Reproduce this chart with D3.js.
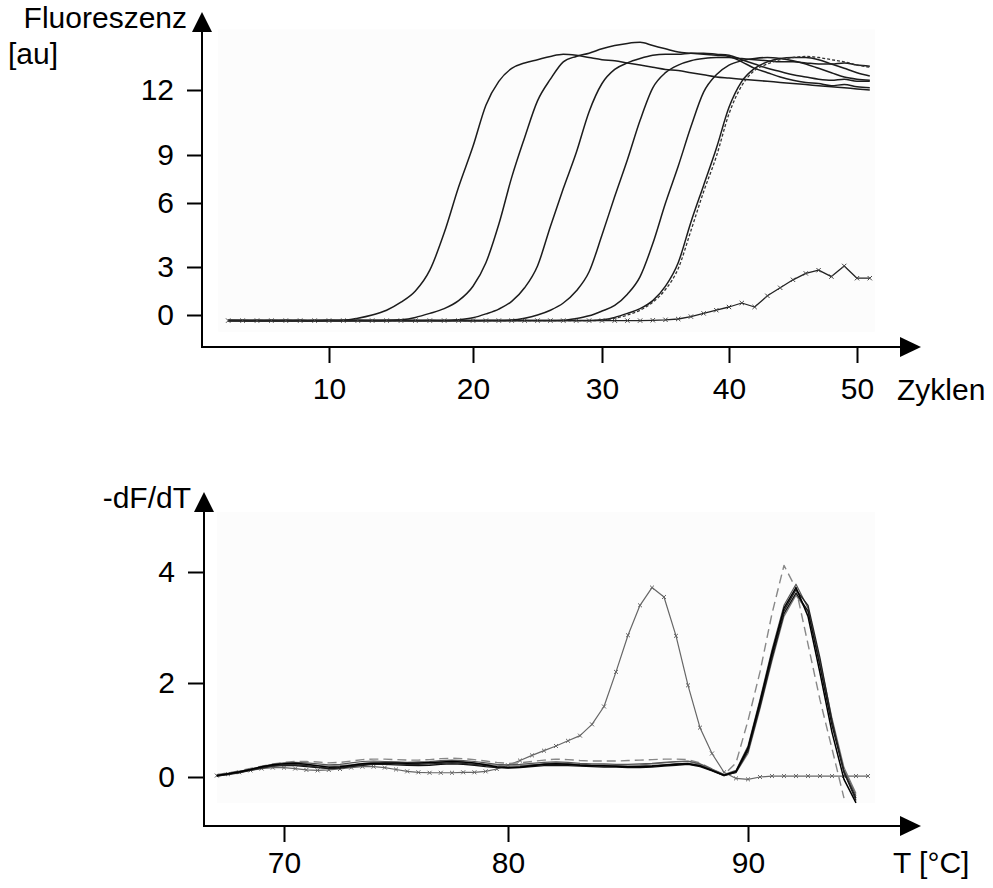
<!DOCTYPE html>
<html>
<head>
<meta charset="utf-8">
<script src="https://cdn.jsdelivr.net/npm/d3@7/dist/d3.min.js"></script>
<style>
  body { margin: 0; background: #fff; }
</style>
</head>
<body>
<svg id="chart" width="993" height="888"></svg>
<script>
// ---- amplification plot (top) ----
const ampXTicks = [10, 20, 30, 40, 50];
const ampYTicks = [0, 3, 6, 9, 12];
const cycles = [3, 4, 5, 6, 7, 8, 9, 10, 11, 12, 13, 14, 15, 16, 17, 18, 19, 20, 21, 22, 23, 24, 25, 26, 27,
    28, 29, 30, 31, 32, 33, 34, 35, 36, 37, 38, 39, 40, 41, 42, 43, 44, 45, 46, 47, 48, 49, 50, 51];

const amp1 = [-0.35, -0.36, -0.35, -0.34, -0.35, -0.35, -0.36, -0.35, -0.33, -0.2, 0.0, 0.3, 0.8, 1.5, 2.8, 4.6,
    7.0, 9.4, 11.3, 12.4, 13.0, 13.25, 13.4, 13.55, 13.65, 13.6, 13.5, 13.4, 13.35, 13.25, 13.15, 13.05, 12.95,
    12.9, 12.8, 12.7, 12.6, 12.55, 12.5, 12.45, 12.4, 12.35, 12.3, 12.25, 12.2, 12.15, 12.1, 12.05, 12.0];
const amp2 = [-0.35, -0.35, -0.36, -0.35, -0.35, -0.34, -0.35, -0.35, -0.36, -0.35, -0.35, -0.35, -0.3, -0.15,
    0.1, 0.4, 0.9, 1.8, 3.2, 5.0, 7.6, 9.8, 11.5, 12.5, 13.3, 13.55, 13.7, 13.9, 14.05, 14.15, 14.2, 14.05, 13.9,
    13.75, 13.7, 13.65, 13.6, 13.55, 13.3, 13.0, 12.8, 12.6, 12.45, 12.35, 12.3, 12.2, 12.25, 12.15, 12.1];
const amp3 = [-0.35, -0.35, -0.35, -0.36, -0.35, -0.35, -0.35, -0.34, -0.35, -0.35, -0.36, -0.35, -0.35, -0.35,
    -0.35, -0.35, -0.3, -0.17, 0.07, 0.37, 0.85, 1.7, 3.05, 4.9, 6.9, 9.1, 11.0, 12.3, 12.95, 13.25, 13.45, 13.6,
    13.65, 13.65, 13.7, 13.7, 13.65, 13.6, 13.4, 13.2, 13.0, 12.85, 12.7, 12.6, 12.5, 12.45, 12.5, 12.4, 12.4];
const amp4 = [-0.35, -0.35, -0.35, -0.35, -0.36, -0.35, -0.35, -0.35, -0.35, -0.34, -0.35, -0.35, -0.35, -0.36,
    -0.35, -0.35, -0.35, -0.35, -0.35, -0.35, -0.32, -0.2, 0.0, 0.3, 0.75, 1.5, 2.7, 4.5, 6.4, 8.7, 10.6, 12.1,
    12.8, 13.15, 13.35, 13.45, 13.5, 13.5, 13.45, 13.4, 13.35, 13.3, 13.3, 13.25, 13.2, 13.2, 13.25, 13.15, 13.1];
const amp5 = [-0.35, -0.35, -0.35, -0.35, -0.35, -0.36, -0.35, -0.35, -0.35, -0.35, -0.35, -0.34, -0.35, -0.35,
    -0.35, -0.36, -0.35, -0.35, -0.35, -0.35, -0.35, -0.35, -0.35, -0.35, -0.33, -0.22, -0.05, 0.25, 0.6, 1.3,
    2.4, 4.1, 6.0, 8.3, 10.3, 11.9, 12.7, 13.15, 13.35, 13.45, 13.5, 13.45, 13.35, 13.2, 13.0, 12.8, 12.6, 12.5, 12.45];
const amp6 = [-0.35, -0.35, -0.35, -0.35, -0.35, -0.35, -0.36, -0.35, -0.35, -0.35, -0.35, -0.35, -0.34, -0.35,
    -0.35, -0.35, -0.35, -0.36, -0.35, -0.35, -0.35, -0.35, -0.35, -0.35, -0.35, -0.35, -0.35, -0.3, -0.15, 0.1,
    0.4, 0.9, 1.8, 3.2, 5.1, 7.1, 9.3, 11.2, 12.4, 13.0, 13.3, 13.45, 13.5, 13.5, 13.4, 13.2, 13.0, 12.8, 12.65];
const ampDashed = [-0.35, -0.35, -0.35, -0.35, -0.35, -0.35, -0.35, -0.35, -0.35, -0.35, -0.35, -0.35, -0.35,
    -0.35, -0.35, -0.35, -0.35, -0.35, -0.35, -0.35, -0.35, -0.35, -0.35, -0.35, -0.35, -0.35, -0.35, -0.33, -0.2,
    0.0, 0.3, 0.8, 1.6, 2.9, 4.7, 6.7, 8.9, 10.9, 12.2, 12.9, 13.2, 13.4, 13.5, 13.55, 13.5, 13.4, 13.3, 13.15, 13.05];
const ampNtc = [-0.35, -0.35, -0.35, -0.35, -0.35, -0.35, -0.35, -0.35, -0.35, -0.35, -0.35, -0.35, -0.35,
    -0.35, -0.35, -0.35, -0.35, -0.35, -0.35, -0.35, -0.35, -0.35, -0.35, -0.35, -0.35, -0.35, -0.35, -0.35,
    -0.35, -0.35, -0.35, -0.33, -0.3, -0.25, -0.1, 0.1, 0.3, 0.5, 0.75, 0.5, 1.2, 1.7, 2.2, 2.6, 2.8, 2.4, 3.05, 2.3, 2.3];

// ---- melting curves (bottom) ----
const meltXTicks = [70, 80, 90];
const meltYTicks = [0, 2, 4];
const meltTemps = [67, 67.5, 68, 68.5, 69, 69.5, 70, 70.5, 71, 71.5, 72, 72.5, 73, 73.5, 74, 74.5, 75, 75.5, 76,
    76.5, 77, 77.5, 78, 78.5, 79, 79.5, 80, 80.5, 81, 81.5, 82, 82.5, 83, 83.5, 84, 84.5, 85, 85.5, 86, 86.5, 87,
    87.5, 88, 88.5, 89, 89.5, 90, 90.5, 91, 91.5, 92, 92.5, 93, 93.5, 94, 94.5, 95];

const melt1 = [0.03, 0.07, 0.11, 0.16, 0.22, 0.26, 0.28, 0.29, 0.27, 0.24, 0.21, 0.22, 0.25, 0.28, 0.29, 0.3, 0.3,
    0.29, 0.3, 0.31, 0.32, 0.33, 0.32, 0.3, 0.26, 0.22, 0.2, 0.21, 0.24, 0.27, 0.28, 0.27, 0.25, 0.24, 0.24, 0.23,
    0.22, 0.22, 0.23, 0.25, 0.27, 0.28, 0.24, 0.14, 0.04, 0.12, 0.62, 1.6, 2.55, 3.35, 3.72, 3.2, 2.18, 0.95, -0.05, -0.55, null];
const melt2 = [0.02, 0.06, 0.1, 0.15, 0.2, 0.24, 0.25, 0.24, 0.22, 0.2, 0.18, 0.19, 0.22, 0.25, 0.27, 0.27, 0.26,
    0.25, 0.24, 0.25, 0.27, 0.28, 0.27, 0.25, 0.22, 0.2, 0.19, 0.2, 0.22, 0.24, 0.25, 0.24, 0.23, 0.22, 0.21, 0.21,
    0.2, 0.2, 0.21, 0.23, 0.25, 0.27, 0.22, 0.13, 0.03, 0.1, 0.55, 1.5, 2.45, 3.25, 3.62, 3.3, 2.3, 1.1, 0.1, -0.45, null];
const melt3 = [0.04, 0.08, 0.12, 0.17, 0.22, 0.27, 0.3, 0.31, 0.3, 0.28, 0.26, 0.27, 0.3, 0.33, 0.34, 0.33, 0.32,
    0.31, 0.32, 0.33, 0.35, 0.36, 0.35, 0.33, 0.3, 0.27, 0.26, 0.27, 0.29, 0.31, 0.32, 0.31, 0.29, 0.28, 0.28, 0.27,
    0.27, 0.28, 0.29, 0.31, 0.33, 0.34, 0.28, 0.17, 0.05, 0.14, 0.66, 1.65, 2.6, 3.4, 3.78, 3.35, 2.35, 1.15, 0.15, -0.4, null];
const melt4 = [0.03, 0.07, 0.11, 0.15, 0.19, 0.23, 0.26, 0.27, 0.26, 0.24, 0.23, 0.24, 0.26, 0.29, 0.31, 0.32, 0.31,
    0.3, 0.29, 0.3, 0.31, 0.32, 0.31, 0.29, 0.27, 0.25, 0.23, 0.24, 0.26, 0.28, 0.3, 0.29, 0.27, 0.26, 0.26, 0.25,
    0.25, 0.26, 0.28, 0.3, 0.32, 0.33, 0.27, 0.16, 0.04, 0.09, 0.5, 1.45, 2.4, 3.2, 3.58, 3.28, 2.4, 1.25, 0.2, -0.35, null];
const melt5 = [0.02, 0.05, 0.09, 0.14, 0.19, 0.23, 0.25, 0.26, 0.24, 0.21, 0.19, 0.2, 0.23, 0.26, 0.28, 0.29, 0.28,
    0.27, 0.27, 0.28, 0.29, 0.3, 0.29, 0.27, 0.24, 0.21, 0.2, 0.22, 0.25, 0.27, 0.28, 0.27, 0.25, 0.24, 0.23, 0.23,
    0.22, 0.23, 0.24, 0.26, 0.28, 0.29, 0.24, 0.14, 0.03, 0.11, 0.58, 1.55, 2.5, 3.3, 3.68, 3.4, 2.45, 1.2, 0.1, -0.5, null];
const meltDashed = [0.05, 0.09, 0.13, 0.18, 0.23, 0.28, 0.31, 0.33, 0.33, 0.32, 0.3, 0.31, 0.34, 0.37, 0.38, 0.38,
    0.37, 0.36, 0.36, 0.37, 0.39, 0.4, 0.39, 0.37, 0.34, 0.31, 0.29, 0.3, 0.33, 0.36, 0.38, 0.37, 0.35, 0.34, 0.34,
    0.34, 0.35, 0.36, 0.37, 0.38, 0.38, 0.37, 0.3, 0.17, 0.05, 0.3, 1.2, 2.2, 3.25, 4.12, 3.7, 2.7, 1.64, 0.6, -0.45, null, null];
const meltNtc = [0.03, 0.06, 0.1, 0.14, 0.18, 0.2, 0.2, 0.18, 0.15, 0.14, 0.15, 0.17, 0.2, 0.22, 0.22, 0.2, 0.16,
    0.12, 0.1, 0.09, 0.09, 0.09, 0.1, 0.1, 0.12, 0.17, 0.25, 0.35, 0.46, 0.56, 0.66, 0.77, 0.88, 1.12, 1.5, 2.2,
    2.86, 3.4, 3.72, 3.55, 2.85, 1.95, 1.05, 0.5, 0.1, -0.03, -0.05, 0.0, 0.02, 0.02, 0.02, 0.02, 0.02, 0.02, 0.02, 0.02, 0.02];

const fontFamily = 'Arial, "Liberation Sans", sans-serif';
const tickFontSize = 30;
const titleFontSize = 30;
const svg = d3.select('#chart');

// the hand-drawn axes in the original are unevenly spaced, so the scales are piecewise
const xAmp = d3.scaleLinear().domain(ampXTicks).range([329, 473, 602, 729, 857]);
const yAmp = d3.scaleLinear().domain(ampYTicks).range([315, 267, 203, 155, 90]);
const xMelt = d3.scaleLinear().domain(meltXTicks).range([284, 508, 748]);
const yMelt = d3.scaleLinear().domain(meltYTicks).range([777, 683, 572]);

const drawArrowAxes = (x0, y0, xTip, yTip) => {
    let g = svg.append('g').attr('fill', '#000').attr('stroke', '#000');
    g.append('line')
        .attr('x1', x0).attr('y1', y0 + 1)
        .attr('x2', x0).attr('y2', yTip + 18)
        .attr('stroke-width', 2);
    g.append('line')
        .attr('x1', x0 - 1).attr('y1', y0)
        .attr('x2', xTip - 18).attr('y2', y0)
        .attr('stroke-width', 2);
    g.append('path')
        .attr('stroke', 'none')
        .attr('d', `M${x0},${yTip}L${x0 - 10},${yTip + 20}L${x0 + 10},${yTip + 20}Z`);
    g.append('path')
        .attr('stroke', 'none')
        .attr('d', `M${xTip},${y0}L${xTip - 21},${y0 - 10}L${xTip - 21},${y0 + 10}Z`);
};

const styleAxis = (g) => {
    g.attr('font-family', fontFamily).attr('font-size', tickFontSize);
    g.select('.domain').remove();
    g.selectAll('.tick line').attr('stroke', '#000').attr('stroke-width', 2);
    g.selectAll('.tick text').attr('fill', '#000');
};

const addText = (txt, x, y, anchor) => {
    svg.append('text')
        .attr('x', x).attr('y', y)
        .attr('text-anchor', anchor)
        .attr('font-family', fontFamily)
        .attr('font-size', titleFontSize)
        .text(txt);
};

const drawSeries = (xScale, yScale, xs, ys, stroke, width, dash, curve) => {
    let line = d3.line()
        .defined(d => d[1] !== null)
        .curve(curve || d3.curveLinear)
        .x(d => xScale(d[0]))
        .y(d => yScale(d[1]));
    svg.append('path')
        .datum(xs.map((x, i) => [x, ys[i]]))
        .attr('fill', 'none')
        .attr('stroke', stroke)
        .attr('stroke-width', width)
        .attr('stroke-linejoin', 'round')
        .attr('stroke-dasharray', dash || null)
        .attr('d', line);
};

const drawMarkers = (xScale, yScale, xs, ys, stroke, size) => {
    svg.append('g')
        .selectAll('path')
        .data(xs.map((x, i) => [x, ys[i]]).filter(d => d[1] !== null))
        .enter()
        .append('path')
        .attr('transform', d => `translate(${xScale(d[0])},${yScale(d[1])})`)
        .attr('d', d3.symbol(d3.symbolTimes, size))
        .attr('fill', 'none')
        .attr('stroke', stroke)
        .attr('stroke-width', 1);
};

// ---------- top chart ----------
svg.append('rect')
    .attr('x', xAmp(cycles[0]) - 10)
    .attr('y', yAmp(14.8))
    .attr('width', xAmp(cycles[cycles.length - 1]) - xAmp(cycles[0]) + 15)
    .attr('height', yAmp(-1.05) - yAmp(14.8))
    .attr('fill', '#fcfcfc');

drawArrowAxes(202, 347, 921, 12);

svg.append('g')
    .attr('transform', 'translate(202,0)')
    .call(d3.axisLeft(yAmp).tickValues(ampYTicks).tickFormat(d3.format('d')).tickSize(15).tickPadding(13))
    .call(styleAxis);

svg.append('g')
    .attr('transform', 'translate(0,347)')
    .call(d3.axisBottom(xAmp).tickValues(ampXTicks).tickFormat(d3.format('d')).tickSize(16).tickPadding(15))
    .call(styleAxis);

[amp1, amp2, amp3, amp4, amp5, amp6].forEach(vals => {
    drawSeries(xAmp, yAmp, cycles, vals, '#1c1c1c', 1.5, null, d3.curveMonotoneX);
});
drawSeries(xAmp, yAmp, cycles, ampDashed, '#333', 1.3, '3,2', d3.curveMonotoneX);
drawSeries(xAmp, yAmp, cycles, ampNtc, '#222', 1.3);
drawMarkers(xAmp, yAmp, cycles, ampNtc, '#444', 14);

addText('Fluoreszenz', 187, 28, 'end');
addText('[au]', 8, 64, 'start');
addText('Zyklen', 897, 400, 'start');

// ---------- bottom chart ----------
svg.append('rect')
    .attr('x', xMelt(67))
    .attr('y', yMelt(5.08))
    .attr('width', xMelt(95.3) - xMelt(67))
    .attr('height', yMelt(-0.55) - yMelt(5.08))
    .attr('fill', '#fcfcfc');

drawArrowAxes(204, 826, 921, 492);

svg.append('g')
    .attr('transform', 'translate(204,0)')
    .call(d3.axisLeft(yMelt).tickValues(meltYTicks).tickFormat(d3.format('d')).tickSize(16).tickPadding(13))
    .call(styleAxis);

svg.append('g')
    .attr('transform', 'translate(0,826)')
    .call(d3.axisBottom(xMelt).tickValues(meltXTicks).tickFormat(d3.format('d')).tickSize(16).tickPadding(10))
    .call(styleAxis);

drawSeries(xMelt, yMelt, meltTemps, meltNtc, '#666', 1.2);
drawMarkers(xMelt, yMelt, meltTemps, meltNtc, '#666', 12);
drawSeries(xMelt, yMelt, meltTemps, meltDashed, '#888', 1.4, '9,5');
drawSeries(xMelt, yMelt, meltTemps, melt4, '#777', 1.2);
drawSeries(xMelt, yMelt, meltTemps, melt3, '#555', 1.2);
drawSeries(xMelt, yMelt, meltTemps, melt2, '#111', 1.3);
drawSeries(xMelt, yMelt, meltTemps, melt5, '#222', 1.3);
drawSeries(xMelt, yMelt, meltTemps, melt1, '#000', 1.5);

addText('-dF/dT', 191, 508, 'end');
addText('T [°C]', 893, 873, 'start');
</script>
</body>
</html>
